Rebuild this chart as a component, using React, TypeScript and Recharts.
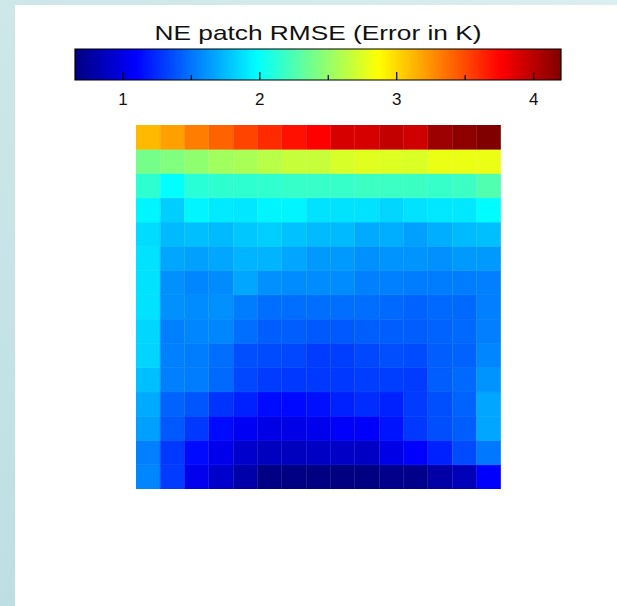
import { BarChart, Bar, XAxis, YAxis, Cell } from 'recharts';

// colour scale limits (Error in K)
const V_MIN = 0.65;
const V_MAX = 4.2;
const scaleTicks = [1, 1.5, 2, 2.5, 3, 3.5, 4];

const columns = ['1', '2', '3', '4', '5', '6', '7', '8', '9', '10', '11', '12', '13', '14', '15'];

// RMSE per cell, top row first, left to right
const row01 = [3.11, 3.2, 3.32, 3.41, 3.52, 3.61, 3.7, 3.76, 3.9, 3.9, 3.97, 3.92, 4.1, 4.15, 4.2];
const row02 = [2.39, 2.43, 2.48, 2.54, 2.57, 2.62, 2.67, 2.67, 2.73, 2.76, 2.75, 2.74, 2.8, 2.8, 2.8];
const row03 = [2.14, 1.98, 2.12, 2.14, 2.14, 2.15, 2.17, 2.17, 2.17, 2.19, 2.19, 2.19, 2.17, 2.19, 2.26];
const row04 = [1.95, 1.81, 1.95, 1.91, 1.9, 1.95, 1.95, 1.88, 1.88, 1.88, 1.84, 1.88, 1.9, 1.9, 1.97];
const row05 = [1.86, 1.74, 1.76, 1.74, 1.79, 1.81, 1.77, 1.74, 1.74, 1.69, 1.7, 1.65, 1.7, 1.74, 1.76];
const row06 = [1.88, 1.67, 1.65, 1.67, 1.72, 1.72, 1.67, 1.63, 1.63, 1.6, 1.61, 1.61, 1.6, 1.63, 1.63];
const row07 = [1.88, 1.6, 1.56, 1.58, 1.67, 1.6, 1.58, 1.58, 1.58, 1.54, 1.54, 1.53, 1.53, 1.53, 1.54];
const row08 = [1.88, 1.6, 1.58, 1.6, 1.53, 1.48, 1.48, 1.48, 1.48, 1.48, 1.46, 1.44, 1.46, 1.46, 1.54];
const row09 = [1.84, 1.54, 1.56, 1.56, 1.48, 1.42, 1.42, 1.4, 1.4, 1.42, 1.42, 1.42, 1.44, 1.46, 1.54];
const row10 = [1.83, 1.54, 1.53, 1.48, 1.37, 1.35, 1.34, 1.3, 1.31, 1.34, 1.37, 1.35, 1.42, 1.44, 1.56];
const row11 = [1.76, 1.54, 1.53, 1.46, 1.34, 1.3, 1.29, 1.29, 1.29, 1.31, 1.31, 1.3, 1.42, 1.46, 1.61];
const row12 = [1.69, 1.44, 1.39, 1.27, 1.21, 1.13, 1.12, 1.15, 1.21, 1.25, 1.21, 1.3, 1.37, 1.44, 1.67];
const row13 = [1.65, 1.4, 1.29, 1.13, 1.06, 1.01, 1.01, 1.03, 1.08, 1.08, 1.16, 1.29, 1.37, 1.42, 1.67];
const row14 = [1.54, 1.29, 1.13, 1.03, 0.92, 0.87, 0.87, 0.89, 0.9, 0.89, 1.01, 1.09, 1.21, 1.35, 1.51];
const row15 = [1.56, 1.3, 1.03, 0.92, 0.8, 0.67, 0.66, 0.66, 0.65, 0.66, 0.69, 0.69, 0.78, 0.85, 1.09];

const rows = [row01, row02, row03, row04, row05, row06, row07, row08, row09, row10, row11, row12, row13, row14, row15];

const clamp = (v: number) => Math.max(0, Math.min(1, v));

function jet(v: number) {
  const t = clamp((v - V_MIN) / (V_MAX - V_MIN));
  const r = clamp(1.5 - Math.abs(4 * t - 3));
  const g = clamp(1.5 - Math.abs(4 * t - 2));
  const b = clamp(1.5 - Math.abs(4 * t - 1));
  return `rgb(${Math.round(r * 255)},${Math.round(g * 255)},${Math.round(b * 255)})`;
}

// each column is one stacked bar, each stacked segment is one cell
const gridData = columns.map((col) => {
  const entry: Record<string, string | number> = { col };
  rows.forEach((_, ri) => {
    entry[`r${ri}`] = 1;
  });
  return entry;
});

// bottom row has to be stacked first
const stackOrder = rows.map((_, ri) => rows.length - 1 - ri);

const scaleData = [{ name: 'scale', range: [V_MIN, V_MAX] }];
const jetStops = [0, 0.125, 0.375, 0.625, 0.875, 1];

const FONT = '"Liberation Sans", Arial, sans-serif';

function ScaleTick(props: any) {
  const { x, y, payload } = props;
  const major = Number.isInteger(payload.value);
  return (
    <g>
      <line x1={x} x2={x} y1={y} y2={y - (major ? 8 : 5)} stroke="#000" strokeWidth={1.2} />
      {major && (
        <text x={x} y={y + 25} textAnchor="middle" fontSize={17} fontFamily={FONT} fill="#111">
          {payload.value}
        </text>
      )}
    </g>
  );
}

export default function App() {
  return (
    <div style={{ position: 'absolute', left: 0, top: 0, width: 617, height: 606, background: '#fff', overflow: 'hidden' }}>
      <div style={{ position: 'absolute', left: 0, top: 0, width: 15, height: 606, background: 'linear-gradient(#cde7ea, #bddfe3)' }} />
      <div style={{ position: 'absolute', left: 15, top: 0, width: 602, height: 5, background: 'linear-gradient(90deg, #cde6e9, #dceef0)' }} />

      <svg style={{ position: 'absolute', left: 0, top: 0 }} width={617} height={50}>
        <text x={318} y={40} textAnchor="middle" fontSize={21} fontFamily={FONT} fill="#111" textLength={327} lengthAdjust="spacingAndGlyphs">
          NE patch RMSE (Error in K)
        </text>
      </svg>

      <div style={{ position: 'absolute', left: 0, top: 0 }}>
        <BarChart
          layout="vertical"
          width={617}
          height={120}
          data={scaleData}
          margin={{ top: 49, right: 56, left: 75, bottom: 0 }}
          barCategoryGap={0}
        >
          <defs>
            <linearGradient id="jetFill" x1="0" y1="0" x2="1" y2="0">
              {jetStops.map((s) => (
                <stop key={s} offset={`${s * 100}%`} stopColor={jet(V_MIN + s * (V_MAX - V_MIN))} />
              ))}
            </linearGradient>
          </defs>
          <XAxis
            type="number"
            domain={[V_MIN, V_MAX]}
            ticks={scaleTicks}
            interval={0}
            axisLine={false}
            tickLine={false}
            tickSize={0}
            tickMargin={0}
            height={40}
            tick={<ScaleTick />}
          />
          <YAxis type="category" dataKey="name" hide />
          <Bar dataKey="range" fill="url(#jetFill)" stroke="#000" strokeWidth={1.2} isAnimationActive={false} />
        </BarChart>
      </div>

      <div style={{ position: 'absolute', left: 136, top: 125 }}>
        <BarChart
          width={365}
          height={364}
          data={gridData}
          margin={{ top: 0, right: 0, left: 0, bottom: 0 }}
          barCategoryGap={0}
          barGap={0}
        >
          <XAxis dataKey="col" hide />
          <YAxis type="number" domain={[0, rows.length]} hide />
          {stackOrder.map((ri) => (
            <Bar key={ri} dataKey={`r${ri}`} stackId="grid" isAnimationActive={false}>
              {rows[ri].map((v, ci) => (
                <Cell key={ci} fill={jet(v)} stroke={jet(v)} strokeWidth={0.6} />
              ))}
            </Bar>
          ))}
        </BarChart>
      </div>
    </div>
  );
}
